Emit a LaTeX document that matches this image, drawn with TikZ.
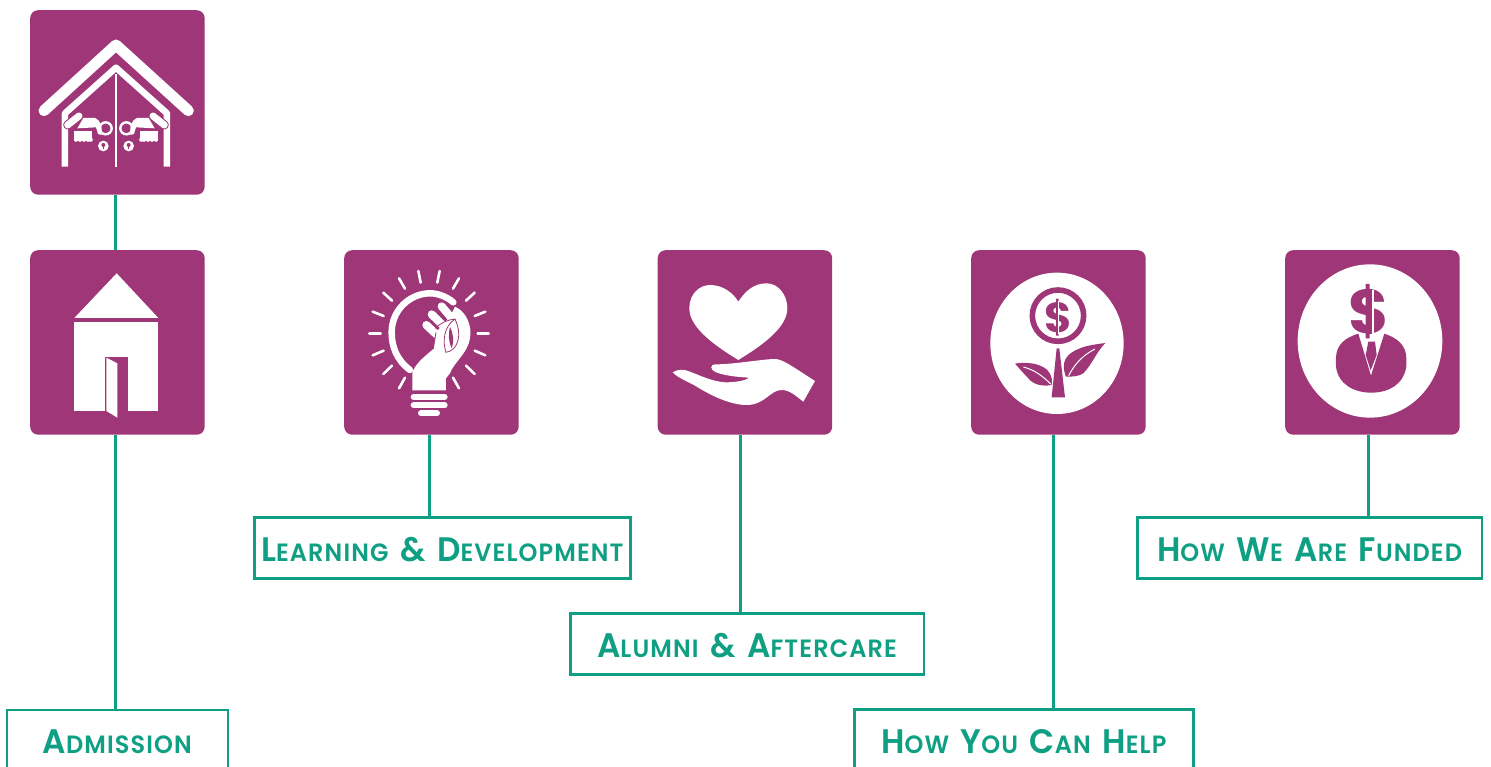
\documentclass[tikz,border=0pt]{standalone}
\usepackage{fontspec}
\setmainfont{Poppins SemiBold}[FakeStretch=0.96,LetterSpace=4.5,WordSpace=1.7]
\newfontfamily\dollarfont{Poppins}[BoldFont=Poppins Bold]
\definecolor{plum}{HTML}{9E3678}
\definecolor{sea}{HTML}{0FA084}
\newcommand\Cap[2]{{\fontsize{34}{34}\selectfont #1}{\fontsize{25}{25}\selectfont #2}}
\tikzset{
 tile/.style={fill=plum,rounded corners=8pt,minimum width=174.5pt,minimum height=184.5pt,inner sep=0pt,anchor=north west},
 label box/.style={draw=sea,line width=2.6pt,fill=white,text=sea,inner sep=0pt,minimum height=61pt,anchor=north west,text height=27pt,text depth=0pt,font=\fontsize{25}{25}\selectfont},
 conn/.style={draw=sea,line width=3pt},
 zoomed/.style 2 args={x=.33333pt,y=-.33333pt,shift={(3*#1,3*#2)}},
 wstroke/.style={draw=white,line cap=round},
 wfill/.style={fill=white},
 pfill/.style={fill=plum},
 pstroke/.style={draw=plum},
 dollar/.style={text=plum,inner sep=0pt,font=\dollarfont\bfseries\fontsize{#1}{#1}\selectfont},
}
\newcommand\DoorHand{%
 \draw[pstroke,line width=9pt,line cap=round] (143,375)--(177,348);
 \draw[wstroke,line width=7pt] (143,375)--(177,348);
 \fill[wfill] (172,385)--(190,354)--(225,354) .. controls (240,360) and (247,375) .. (245,405)--(234,402)--(228,382)--cycle;
 \fill[wfill] (162,393) rectangle (216,418);
 \foreach \q in {168,180,192,204,212} \fill[wfill] (\q,419) circle (6.5);
 \draw[draw=white,line width=2.4pt] (257,385) circle (18);
 \fill[wfill] (250,438) circle (16);
 \fill[pfill] (250,435) circle (6);
 \fill[pfill] (248,435) rectangle (252,448);
}
\begin{document}
\begin{tikzpicture}[x=1pt,y=-1pt]
\useasboundingbox (0,0) rectangle (1491,767);
\clip (0,0) rectangle (1491,767);
% tiles
\node[tile] (t1) at (30,10) {};
\node[tile] (t2) at (30,250) {};
\node[tile] (t3) at (344,250) {};
\node[tile] (t4) at (657.5,250) {};
\node[tile] (t5) at (971,250) {};
\node[tile] (t6) at (1285,250) {};
% labels
\node[label box,minimum width=221pt] (b2) at (5.5,708.5) {\Cap{A}{DMISSION}};
\node[label box,minimum width=376pt] (b3) at (253,516) {\Cap{L}{EARNING} \Cap{\&}{} \Cap{D}{EVELOPMENT}};
\node[label box,minimum width=353.5pt] (b4) at (569,612) {\Cap{A}{LUMNI} \Cap{\&}{} \Cap{A}{FTERCARE}};
\node[label box,minimum width=339pt] (b5) at (853,708) {\Cap{H}{OW} \Cap{Y}{OU} \Cap{C}{AN} \Cap{H}{ELP}};
\node[label box,minimum width=344.5pt] (b6) at (1136,516) {\Cap{H}{OW} \Cap{W}{E} \Cap{A}{RE} \Cap{F}{UNDED}};
% connectors
\draw[conn] ([xshift=-2pt]t1.south) -- ([xshift=-2pt]t1.south |- t2.north);
\draw[conn] ([xshift=-2pt]t2.south) -- ([xshift=-2pt]t2.south |- b2.north);
\draw[conn] ([xshift=-1.75pt]t3.south) -- ([xshift=-1.75pt]t3.south |- b3.north);
\draw[conn] ([xshift=-4.25pt]t4.south) -- ([xshift=-4.25pt]t4.south |- b4.north);
\draw[conn] ([xshift=-4.75pt]t5.south) -- ([xshift=-4.75pt]t5.south |- b5.north);
\draw[conn] ([xshift=-3.75pt]t6.south) -- ([xshift=-3.75pt]t6.south |- b6.north);
% icon 1: house with doors
\begin{scope}[zoomed={20}{0}]
 \draw[wstroke,line width=11pt,line join=round] (72,332)--(288,135)--(505,332);
 \draw[draw=white,line width=6.5pt,line join=round] (135,500)--(135,340)--(288,203)--(441,340)--(441,500);
 \draw[draw=white,line width=2.6pt] (288,222)--(288,500);
 \DoorHand
 \begin{scope}[shift={(576,0)},xscale=-1]
  \DoorHand
 \end{scope}
\end{scope}
% icon 2: house
\begin{scope}[zoomed={20}{245}]
 \fill[wfill] (290,85)--(163,219)--(415,219)--cycle;
 \fill[wfill] (163,230) rectangle (415,497);
 \fill[pfill] (256,336) rectangle (323,498);
 \fill[wfill] (259,338)--(292,355)--(292,518)--(259,498)--cycle;
\end{scope}
% icon 3: bulb and hand
\begin{scope}[zoomed={335}{245}]
 \foreach \a/\b/\c/\d in {103/265/137/265,113/200/146/213,145/143/171/167,192/100/210/131,250/78/257/113,314/78/307/113,372/100/354/131,419/143/393/167,451/200/419/213,461/265/428/265,451/331/419/317,419/387/393/362,372/430/354/398,192/430/210/398,145/387/171/362,113/331/146/317}
  \draw[wstroke,line width=2.6pt] (\a,\b)--(\c,\d);
 \draw[wstroke,line width=6.5pt] (225,375) .. controls (185,345) and (170,305) .. (170,262) .. controls (170,195) and (225,145) .. (285,145) .. controls (310,145) and (335,155) .. (355,172);
 \fill[wfill] (232,436)--(232,385) .. controls (238,360) and (262,340) .. (295,312)--(303,262)--(345,215)--(360,185) .. controls (395,200) and (412,245) .. (405,280) .. controls (398,325) and (358,350) .. (345,385)--(333,400)--(333,436)--cycle;
 \draw[wstroke,line width=8pt] (274,240)--(304,268);
 \draw[wstroke,line width=8pt] (290,208)--(328,245);
 \draw[wstroke,line width=8pt] (320,184)--(352,222);
 \draw[pstroke,line width=.8pt] (300,250) .. controls (320,232) and (340,224) .. (360,222) .. controls (385,275) and (365,318) .. (333,322) .. controls (322,290) and (326,245) .. (360,222);
 \fill[pfill] (345,245) .. controls (340,265) and (340,290) .. (350,310) .. controls (358,290) and (355,265) .. (345,245)--cycle;
 \draw[pstroke,line width=.8pt] (303,262)--(295,312);
 \draw[wstroke,line width=6pt] (236,456)--(329,456);
 \draw[wstroke,line width=6pt] (236,481)--(329,481);
 \draw[wstroke,line width=6pt] (258,505)--(306,505);
\end{scope}
% icon 4: heart on hand
\begin{scope}[zoomed={650}{245}]
 \fill[wfill] (265,345) .. controls (200,305) and (118,250) .. (118,190) .. controls (118,145) and (150,120) .. (180,120) .. controls (220,120) and (250,145) .. (265,170) .. controls (285,140) and (310,115) .. (350,115) .. controls (385,115) and (412,150) .. (412,190) .. controls (412,250) and (330,305) .. (265,345)--cycle;
 \fill[wfill] (68,382) .. controls (85,372) and (100,372) .. (120,380) .. controls (150,392) and (190,410) .. (225,412) .. controls (255,412) and (285,408) .. (297,398) .. controls (260,396) and (225,392) .. (198,382) .. controls (180,375) and (178,358) .. (198,358) .. controls (250,358) and (320,345) .. (370,342) .. controls (395,340) and (420,360) .. (495,408)--(460,470) .. controls (440,455) and (420,435) .. (395,435) .. controls (360,435) and (345,480) .. (290,480) .. controls (240,480) and (180,450) .. (140,425) .. controls (115,410) and (85,400) .. (68,382)--cycle;
\end{scope}
% icon 5: money plant
\begin{scope}[zoomed={960}{245}]
 \fill[wfill] (291,295) ellipse [x radius=200,y radius=212];
 \draw[pstroke,line width=5.6pt] (294,212) circle (77);
 \node[dollar=42] (d5) at (294,218) {\$};
 \draw[draw=white,line width=1.4pt] (296,168)--(296,268);
 \fill[pfill] (290,310)--(298,310)--(315,457)--(275,457)--cycle;
 \fill[pfill] (318,395) .. controls (300,350) and (320,325) .. (360,310) .. controls (385,300) and (410,298) .. (436,294) .. controls (410,320) and (395,360) .. (370,385) .. controls (355,395) and (335,395) .. (318,395)--cycle;
 \draw[draw=white,line width=1pt] (326,392) .. controls (345,355) and (370,330) .. (405,312);
 \fill[pfill] (165,356) .. controls (200,350) and (240,355) .. (262,375) .. controls (275,390) and (278,405) .. (275,420) .. controls (250,425) and (220,420) .. (205,400) .. controls (190,385) and (180,372) .. (165,356)--cycle;
 \draw[draw=white,line width=1pt] (272,417) .. controls (250,395) and (225,375) .. (190,366);
\end{scope}
% icon 6: money head
\begin{scope}[zoomed={1275}{245}]
 \fill[wfill] (285,288) ellipse [x radius=217,y radius=230];
 \fill[pfill] (250,266) .. controls (210,278) and (183,300) .. (183,340)--(183,365) .. controls (190,420) and (240,443) .. (288,443) .. controls (340,443) and (385,420) .. (394,365)--(394,340) .. controls (394,300) and (365,278) .. (328,266)--(288,392)--cycle;
 \fill[pfill] (280,290)--(300,290)--(305,330)--(287,376)--(272,330)--cycle;
 \node[dollar=62] (d6) at (283,200) {\$};
 \fill[pfill] (280,132) rectangle (292,268);
 \draw[draw=white,line width=1.2pt] (294,135)--(294,268);
\end{scope}
\end{tikzpicture}
\end{document}
